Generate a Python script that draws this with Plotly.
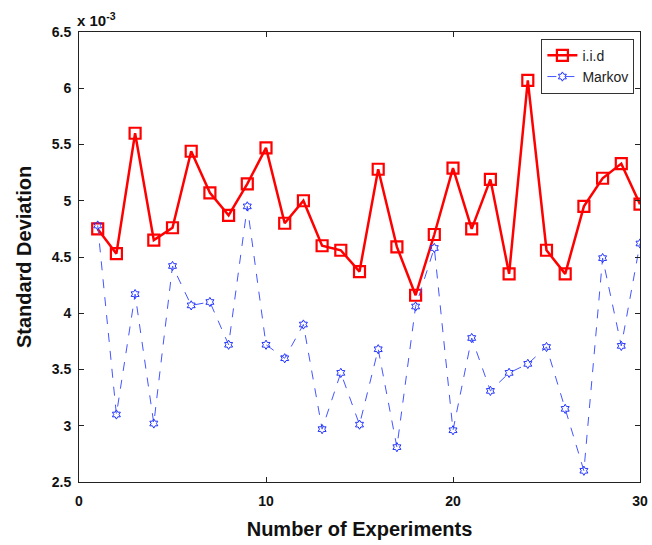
import plotly.graph_objects as go

experiments = list(range(1, 31))
iid = [4.75, 4.53, 5.60, 4.65, 4.76, 5.44, 5.07, 4.87, 5.15, 5.47,
       4.80, 5.00, 4.60, 4.56, 4.37, 5.28, 4.59, 4.16, 4.70, 5.29,
       4.75, 5.19, 4.35, 6.07, 4.56, 4.35, 4.95, 5.20, 5.33, 4.97]
markov = [4.78, 3.10, 4.17, 3.02, 4.42, 4.07, 4.10, 3.72, 4.95, 3.72,
          3.60, 3.90, 2.97, 3.47, 3.01, 3.68, 2.81, 4.06, 4.58, 2.96,
          3.78, 3.31, 3.47, 3.55, 3.70, 3.15, 2.60, 4.49, 3.71, 4.62]
x_ticks = [0, 10, 20, 30]
y_ticks = [2.5, 3, 3.5, 4, 4.5, 5, 5.5, 6, 6.5]

FONT = "Liberation Sans, Arial, sans-serif"

fig = go.Figure()
fig.add_trace(go.Scatter(
    x=experiments, y=iid, name="i.i.d", mode="lines+markers",
    line=dict(color="#ff0000", width=2.5),
    marker=dict(symbol="square-open", size=11, color="#ff0000", line=dict(width=2.2, color="#ff0000")),
))
fig.add_trace(go.Scatter(
    x=experiments, y=markov, name="Markov", mode="lines+markers",
    line=dict(color="#4455ff", width=1, dash="dash"),
    marker=dict(symbol="hexagram-open", size=7, color="#2233ff", line=dict(width=1, color="#2233ff")),
))

axis_common = dict(
    showline=True, linecolor="#222", linewidth=1, mirror="ticks",
    ticks="inside", ticklen=5, tickcolor="#222", showgrid=False, zeroline=False,
    automargin=False,
    tickfont=dict(family=FONT, size=14, color="#111", weight="bold"),
)

fig.update_layout(
    width=652, height=545,
    margin=dict(l=79, r=12, t=32, b=63),
    paper_bgcolor="white", plot_bgcolor="white",
    font=dict(family=FONT, color="#111"),
    xaxis=dict(range=[0, 30], tickvals=x_ticks, ticklabelstandoff=6,
               title=dict(text="<b>Number of Experiments</b>", font=dict(family=FONT, size=20), standoff=14),
               **axis_common),
    yaxis=dict(range=[2.5, 6.5], tickvals=y_ticks, ticktext=[f"{v:g}" for v in y_ticks],
               ticklabelstandoff=4,
               title=dict(text="<b>Standard Deviation</b>", font=dict(family=FONT, size=20), standoff=14),
               **axis_common),
    legend=dict(x=0.99, y=0.985, xanchor="right", yanchor="top",
                bgcolor="white", bordercolor="#333", borderwidth=1,
                font=dict(family=FONT, size=14, color="#222"),
                tracegroupgap=0),
    showlegend=True,
)

fig.add_annotation(
    text="<b>x 10<sup>-3</sup></b>", xref="paper", yref="paper",
    x=0.0, y=1.0, xanchor="left", yanchor="bottom", xshift=-4, yshift=1,
    showarrow=False, font=dict(family=FONT, size=15, color="#111"),
)

fig.write_html("out.html")
